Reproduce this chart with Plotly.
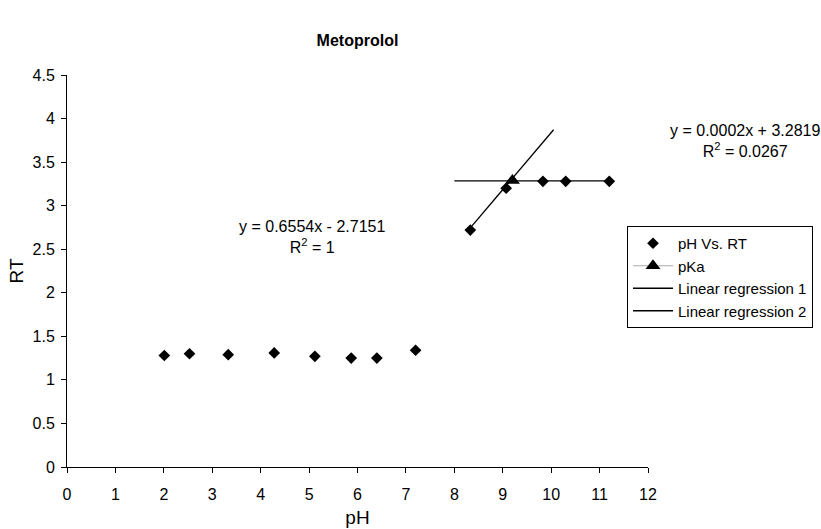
import plotly.graph_objects as go

# Data
ph = [2.01, 2.53, 3.33, 4.28, 5.12, 5.87, 6.40, 7.20, 8.33, 9.07, 9.83, 10.30, 11.20]
rt = [1.28, 1.30, 1.29, 1.31, 1.27, 1.25, 1.25, 1.34, 2.72, 3.20, 3.28, 3.28, 3.28]
pka_x = [9.2]
pka_y = [3.29]
reg1_slope, reg1_int = 0.6554, -2.7151
reg1_x = [8.33, 10.05]
reg2_slope, reg2_int = 0.0002, 3.2819
reg2_x = [8.0, 11.2]

FONT = "Liberation Sans, Arial, sans-serif"
FS = 16
X0, X1, YT, YB = 67, 648, 75, 467
PW, PH = X1 - X0, YB - YT


def px(x):
    return (x - X0) / PW


def py(y):
    return (YB - y) / PH


fig = go.Figure()
fig.add_trace(go.Scatter(x=ph, y=rt, mode="markers", name="pH Vs. RT",
                         marker=dict(symbol="diamond", size=9, color="black")))
fig.add_trace(go.Scatter(x=pka_x, y=pka_y, mode="lines+markers", name="pKa",
                         line=dict(color="#aaaaaa", width=1),
                         marker=dict(symbol="triangle-up", size=13, color="black")))
fig.add_trace(go.Scatter(x=reg1_x, y=[reg1_slope * v + reg1_int for v in reg1_x],
                         mode="lines", name="Linear regression 1",
                         line=dict(color="black", width=1.3)))
fig.add_trace(go.Scatter(x=reg2_x, y=[reg2_slope * v + reg2_int for v in reg2_x],
                         mode="lines", name="Linear regression 2",
                         line=dict(color="black", width=1.3)))

fig.add_annotation(x=px(312), y=py(237), xref="paper", yref="paper", showarrow=False,
                   xanchor="center", yanchor="middle",
                   text="y = 0.6554x - 2.7151<br>R<sup>2</sup> = 1",
                   font=dict(family=FONT, size=FS, color="black"), align="center")
fig.add_annotation(x=px(745), y=py(141), xref="paper", yref="paper", showarrow=False,
                   xanchor="center", yanchor="middle",
                   text="y = 0.0002x + 3.2819<br>R<sup>2</sup> = 0.0267",
                   font=dict(family=FONT, size=FS, color="black"), align="center")

fig.update_layout(
    width=821, height=529,
    margin=dict(l=X0, r=821 - X1, t=YT, b=529 - YB, autoexpand=False),
    paper_bgcolor="white", plot_bgcolor="white",
    font=dict(family=FONT, size=FS, color="black"),
    title=dict(text="<b>Metoprolol</b>", x=0.5, xref="paper", xanchor="center",
               y=1 - 40 / 529, yanchor="middle",
               font=dict(family=FONT, size=16, color="black")),
    showlegend=True,
    legend=dict(x=px(627), y=py(226), xanchor="left", yanchor="top",
                bordercolor="black", borderwidth=1, bgcolor="white",
                font=dict(family=FONT, size=15, color="black"),
                itemwidth=40, tracegroupgap=0),
    xaxis=dict(range=[0, 12], dtick=1, showgrid=False, zeroline=False,
               showline=True, linecolor="black", linewidth=1,
               ticks="outside", ticklen=5, tickcolor="black",
               ticklabelstandoff=8, automargin=False,
               title=dict(text="pH", standoff=8)),
    yaxis=dict(range=[0, 4.5], dtick=0.5, showgrid=False, zeroline=False,
               showline=True, linecolor="black", linewidth=1,
               ticks="outside", ticklen=5, tickcolor="black",
               ticklabelstandoff=3, automargin=False,
               title=dict(text="RT", standoff=3)),
)

fig.write_html("out.html")
